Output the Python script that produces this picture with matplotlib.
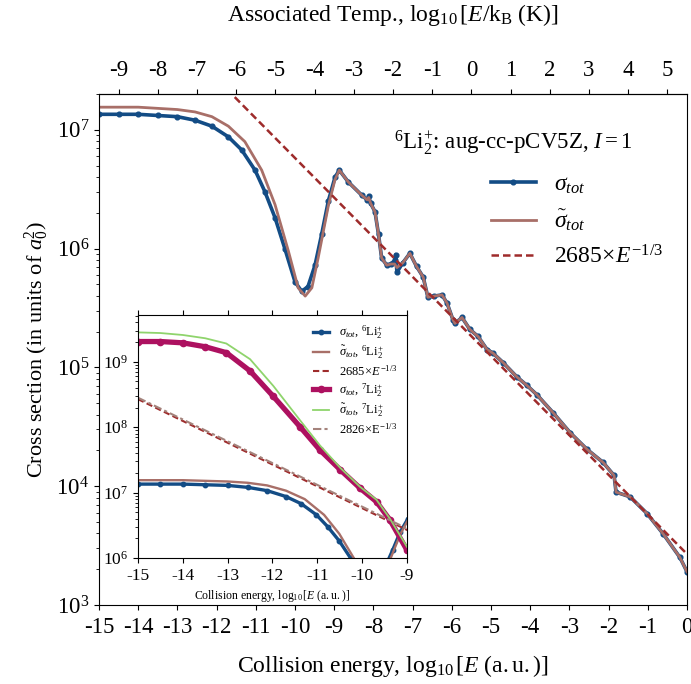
import numpy as np
import matplotlib
matplotlib.use('Agg')
import matplotlib.pyplot as plt
from matplotlib.ticker import FuncFormatter, NullFormatter, LogLocator, FixedLocator

plt.rcParams['font.family'] = ['Liberation Serif', 'DejaVu Serif']
plt.rcParams['mathtext.fontset'] = 'custom'
plt.rcParams['mathtext.rm'] = 'Liberation Serif'
plt.rcParams['mathtext.it'] = 'Liberation Serif:italic'
plt.rcParams['mathtext.bf'] = 'Liberation Serif:bold'
plt.rcParams['axes.unicode_minus'] = False

HARTREE_K = 315775.02

# 6Li2+ cross sections, low-energy part (log10 E [a.u.], log10 sigma [a0^2])
logE_sig = [-15.0, -14.5, -14.0, -13.5, -13.0, -12.55, -12.12, -11.7, -11.36, -11.02,
            -10.77, -10.51, -10.26, -10.0, -9.83, -9.67, -9.49, -9.32, -9.15, -8.98,
            -8.87, -8.64, -8.3, -8.16, -8.12, -8.07, -7.96, -7.87, -7.79, -7.66,
            -7.55, -7.46, -7.43, -7.4]
logsig = [7.13, 7.13, 7.13, 7.12, 7.11, 7.08, 7.03, 6.94, 6.83, 6.66,
          6.48, 6.26, 6.0, 5.72, 5.64, 5.68, 5.86, 6.12, 6.4, 6.6,
          6.66, 6.56, 6.45, 6.41, 6.44, 6.38, 6.31, 6.12, 5.92, 5.86,
          5.87, 5.9, 5.95, 5.8]
logE_sigt = [-15.0, -14.5, -14.0, -13.5, -13.0, -12.55, -12.12, -11.7, -11.28, -10.85,
             -10.51, -10.17, -9.92, -9.74, -9.57, -9.41, -9.15, -8.98, -8.87, -8.64,
             -8.3, -8.16, -8.12, -8.07, -7.96, -7.87, -7.79, -7.66, -7.55, -7.46, -7.4]
logsigt = [7.19, 7.19, 7.19, 7.18, 7.17, 7.15, 7.11, 7.03, 6.9, 6.66,
           6.37, 5.98, 5.67, 5.6, 5.67, 5.92, 6.36, 6.58, 6.66, 6.56,
           6.45, 6.41, 6.43, 6.38, 6.31, 6.12, 5.92, 5.86, 5.87, 5.87, 5.84]
# high-energy part, shared by sigma and sigma-tilde
logE_tail = [-7.25, -7.07, -6.9, -6.73, -6.61, -6.45, -6.25, -6.12, -5.97, -5.92,
             -5.74, -5.54, -5.33, -5.1, -4.95, -4.69, -4.34, -4.09, -3.83, -3.42,
             -2.98, -2.55, -2.14, -1.86, -1.81, -1.45, -1.02, -0.61, -0.18, 0.0]
logsig_tail = [5.88, 5.96, 5.85, 5.76, 5.59, 5.6, 5.61, 5.54, 5.4, 5.37,
               5.42, 5.32, 5.26, 5.15, 5.12, 5.04, 4.92, 4.85, 4.77, 4.62,
               4.45, 4.31, 4.2, 4.09, 3.95, 3.91, 3.77, 3.6, 3.4, 3.28]

# 7Li2+ (inset only)
logE_7 = [-15.0, -14.5, -14.0, -13.5, -13.03, -12.5, -11.98, -11.39, -10.94, -10.49,
          -10.05, -9.68, -9.38, -9.0]
logsig_7 = [9.31, 9.31, 9.29, 9.23, 9.14, 8.86, 8.47, 8.01, 7.65, 7.35,
            7.07, 6.86, 6.58, 6.12]
logsigt_7 = [9.45, 9.44, 9.41, 9.36, 9.28, 9.04, 8.63, 8.11, 7.72, 7.38,
             7.09, 6.89, 6.6, 6.17]

C6, C7 = 2685, 2826
top_ticks = list(range(-9, 6))

blue = '#134c85'
brown = '#a86f68'
red = '#9e2b2b'
magenta = '#ad1160'
green = '#8fd46c'
grey = '#a4837c'

E6 = 10 ** np.array(logE_sig + logE_tail)
S6 = 10 ** np.array(logsig + logsig_tail)
E6t = 10 ** np.array(logE_sigt + logE_tail)
S6t = 10 ** np.array(logsigt + logsig_tail)
E7 = 10 ** np.array(logE_7)
E_line = np.logspace(-15, 0, 50)

expfmt = FuncFormatter(lambda v, p: f"{int(round(np.log10(v)))}")

fig = plt.figure(figsize=(6.91, 6.84), dpi=100)
ax = fig.add_axes([0.1433, 0.1155, 0.8509, 0.7471])

ax.plot(E6, S6, '-o', color=blue, lw=2.6, ms=3.4, label=r'$\sigma_{tot}$')
ax.plot(E6t, S6t, '-', color=brown, lw=2.0, label=r'$\tilde{\sigma}_{tot}$')
ax.plot(E_line, C6 * E_line ** (-1 / 3), '--', color=red, lw=1.8, dashes=(3, 1.6),
        label=r'$2685\!\times\! E^{-1/3}$')

ax.set_xscale('log')
ax.set_yscale('log')
ax.set_xlim(1e-15, 1)
ax.set_ylim(1e3, 2e7)
ax.xaxis.set_major_locator(LogLocator(base=10, numticks=20))
ax.xaxis.set_major_formatter(expfmt)
ax.xaxis.set_minor_formatter(NullFormatter())
ax.tick_params(labelsize=16.5)
ax.tick_params(axis='x', pad=5)
ax.set_xlabel(r'Collision energy, $\log_{10}[E\ (\mathrm{a.u.})]$', fontsize=17, labelpad=11)
ax.set_ylabel(r'Cross section (in units of $a_0^2$)', fontsize=16, labelpad=4)

top = ax.secondary_xaxis('top', functions=(lambda e: e * HARTREE_K, lambda t: t / HARTREE_K))
top.xaxis.set_major_locator(FixedLocator([10.0 ** k for k in top_ticks]))
top.xaxis.set_major_formatter(expfmt)
top.xaxis.set_minor_formatter(NullFormatter())
top.tick_params(labelsize=16.5, pad=6)
top.set_xlabel(r'Associated Temp., $\log_{10}[E/\mathrm{k}_{\mathrm{B}}\ (\mathrm{K})]$', fontsize=17,
               labelpad=28)

ax.text(0.705, 0.905, r'$^{6}\mathrm{Li}_2^{+}$: aug-cc-pCV5Z, $I=1$', transform=ax.transAxes,
        ha='center', va='center', fontsize=16.5)
ax.legend(loc='upper left', bbox_to_anchor=(0.63, 0.885), frameon=False, fontsize=17,
          handlelength=1.9, labelspacing=0.5)

# inset
ins = fig.add_axes([0.1997, 0.1842, 0.3893, 0.3553])
ins.plot(E6, S6, '-o', color=blue, lw=2.4, ms=3.2,
         label=r'$\sigma_{tot}$, $^{6}\mathrm{Li}_2^{+}$')
ins.plot(E6t, S6t, '-', color=brown, lw=1.7,
         label=r'$\tilde{\sigma}_{tot}$, $^{6}\mathrm{Li}_2^{+}$')
ins.plot(E_line, C6 * E_line ** (-1 / 3), '--', color=red, lw=1.5, dashes=(3, 1.6),
         label=r'$2685\!\times\! E^{-1/3}$')
ins.plot(E7, 10 ** np.array(logsig_7), '-o', color=magenta, lw=3.8, ms=4.5,
         label=r'$\sigma_{tot}$, $^{7}\mathrm{Li}_2^{+}$')
ins.plot(E7, 10 ** np.array(logsigt_7), '-', color=green, lw=1.3,
         label=r'$\tilde{\sigma}_{tot}$, $^{7}\mathrm{Li}_2^{+}$')
ins.plot(E_line, C7 * E_line ** (-1 / 3), color=grey, lw=1.5, dashes=(4, 1.5, 1.5, 1.5),
         label=r'$2826\!\times\!\mathrm{E}^{-1/3}$')
ins.set_xscale('log')
ins.set_yscale('log')
ins.set_xlim(1e-15, 1e-9)
ins.set_ylim(1e6, 5.2e9)
ins.xaxis.set_major_locator(LogLocator(base=10, numticks=20))
ins.xaxis.set_major_formatter(expfmt)
ins.xaxis.set_minor_formatter(NullFormatter())
ins.tick_params(labelsize=12.5)
ins.tick_params(axis='x', which='both', top=True)
ins.set_xlabel(r'Collision energy, $\log_{10}[E\ (\mathrm{a.u.})]$', fontsize=8.5, labelpad=3)
ins.legend(loc='upper right', frameon=False, fontsize=9, handlelength=1.3,
           labelspacing=0.22, borderaxespad=0.3)

fig.savefig('out.png', dpi=100)
